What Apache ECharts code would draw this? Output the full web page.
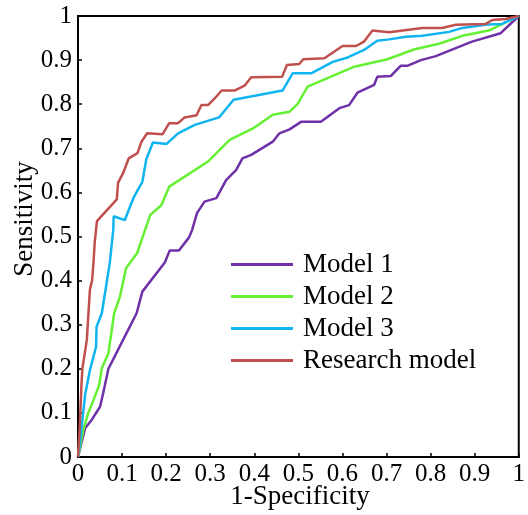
<!DOCTYPE html>
<html>
<head>
<meta charset="utf-8">
<script src="https://cdn.jsdelivr.net/npm/echarts@6/dist/echarts.min.js"></script>
<style>html,body{margin:0;padding:0;background:#fff}#c{width:528px;height:515px}</style>
</head>
<body>
<div id="c"></div>
<script>
var seriesNames = ['Model 1', 'Model 2', 'Model 3', 'Research model'];
var seriesColors = ['#7030a8', '#66f033', '#10b4f0', '#c0504d'];
var xTickLabels = ['0','0.1','0.2','0.3','0.4','0.5','0.6','0.7','0.8','0.9','1'];
var yTickLabels = ['0','0.1','0.2','0.3','0.4','0.5','0.6','0.7','0.8','0.9','1'];

var model1 = [[0,0],[0.016,0.065],[0.031,0.084],[0.050,0.114],[0.057,0.144],[0.069,0.200],[0.102,0.265],[0.133,0.326],[0.146,0.375],[0.197,0.441],[0.208,0.468],[0.229,0.468],[0.252,0.498],[0.259,0.515],[0.270,0.553],[0.287,0.579],[0.314,0.587],[0.336,0.628],[0.359,0.651],[0.373,0.677],[0.393,0.685],[0.442,0.715],[0.457,0.734],[0.480,0.743],[0.506,0.760],[0.551,0.760],[0.593,0.791],[0.615,0.798],[0.634,0.826],[0.672,0.844],[0.679,0.862],[0.710,0.864],[0.732,0.887],[0.747,0.887],[0.778,0.900],[0.812,0.909],[0.857,0.927],[0.894,0.942],[0.959,0.961],[1,1]];
var model2 = [[0,0],[0.012,0.061],[0.023,0.099],[0.035,0.129],[0.048,0.163],[0.054,0.201],[0.069,0.235],[0.082,0.326],[0.095,0.363],[0.109,0.428],[0.134,0.462],[0.164,0.549],[0.189,0.571],[0.207,0.613],[0.295,0.670],[0.344,0.719],[0.397,0.745],[0.442,0.776],[0.480,0.783],[0.498,0.800],[0.521,0.840],[0.627,0.885],[0.702,0.902],[0.762,0.924],[0.819,0.937],[0.872,0.955],[0.932,0.967],[1,1]];
var model3 = [[0,0],[0.006,0.046],[0.016,0.140],[0.027,0.197],[0.041,0.250],[0.042,0.295],[0.054,0.326],[0.072,0.439],[0.080,0.515],[0.081,0.546],[0.106,0.537],[0.127,0.590],[0.146,0.624],[0.155,0.675],[0.170,0.713],[0.201,0.710],[0.227,0.734],[0.265,0.753],[0.320,0.770],[0.353,0.810],[0.464,0.831],[0.487,0.870],[0.529,0.870],[0.578,0.896],[0.612,0.906],[0.649,0.923],[0.679,0.944],[0.706,0.947],[0.744,0.953],[0.781,0.955],[0.842,0.964],[0.872,0.973],[0.932,0.981],[0.962,0.982],[1,1]];
var researchModel = [[0,0],[0.004,0.070],[0.008,0.167],[0.010,0.201],[0.020,0.265],[0.027,0.379],[0.032,0.401],[0.035,0.439],[0.038,0.488],[0.043,0.535],[0.088,0.584],[0.091,0.622],[0.102,0.643],[0.115,0.677],[0.135,0.689],[0.144,0.715],[0.157,0.734],[0.192,0.732],[0.207,0.757],[0.227,0.757],[0.242,0.770],[0.269,0.775],[0.280,0.798],[0.295,0.798],[0.310,0.813],[0.326,0.831],[0.355,0.831],[0.378,0.842],[0.393,0.861],[0.463,0.862],[0.474,0.889],[0.502,0.891],[0.511,0.902],[0.559,0.904],[0.581,0.919],[0.600,0.932],[0.631,0.932],[0.649,0.942],[0.668,0.967],[0.706,0.963],[0.781,0.973],[0.826,0.973],[0.857,0.980],[0.925,0.982],[0.940,0.991],[0.970,0.993],[1,1]];

var allData = [model1, model2, model3, researchModel];
var FONT = 'Liberation Serif';

var chart = echarts.init(document.getElementById('c'), null, {renderer: 'canvas'});
chart.setOption({
  animation: false,
  backgroundColor: '#fff',
  grid: {left: 78, right: 8, top: 16, bottom: 58, show: true, borderColor: '#000', borderWidth: 2, containLabel: false},
  legend: {
    orient: 'vertical', left: 226, top: 246, itemWidth: 62, itemHeight: 3, itemGap: 5,
    icon: 'rect',
    data: seriesNames,
    textStyle: {fontFamily: FONT, fontSize: 27, color: '#000', padding: [0,0,0,5]}
  },
  xAxis: {
    type: 'value', min: 0, max: 1, interval: 0.1,
    axisLine: {show: true, lineStyle: {color: '#000', width: 2}},
    axisTick: {show: true, inside: true, length: 4, lineStyle: {color: '#000', width: 1.5}},
    splitLine: {show: false},
    axisLabel: {fontFamily: FONT, fontSize: 25, color: '#000', margin: 5,
      formatter: function (v) { return xTickLabels[Math.round(v * 10)]; }}
  },
  yAxis: {
    type: 'value', min: 0, max: 1, interval: 0.1,
    axisLine: {show: true, lineStyle: {color: '#000', width: 2}},
    axisTick: {show: true, inside: true, length: 4, lineStyle: {color: '#000', width: 1.5}},
    splitLine: {show: false},
    axisLabel: {fontFamily: FONT, fontSize: 25, color: '#000', margin: 6,
      formatter: function (v) { return yTickLabels[Math.round(v * 10)]; }}
  },
  graphic: [
    {type: 'text', x: 300, y: 497, style: {text: '1-Specificity', font: '27px "Liberation Serif"', fill: '#000', textAlign: 'center', textVerticalAlign: 'middle'}},
    {type: 'text', x: 25, y: 219, rotation: Math.PI / 2, style: {text: 'Sensitivity', font: '27px "Liberation Serif"', fill: '#000', textAlign: 'center', textVerticalAlign: 'middle'}}
  ],
  series: seriesNames.map(function (n, i) {
    return {
      name: n, type: 'line', data: allData[i], symbol: 'none', showSymbol: false,
      lineStyle: {color: seriesColors[i], width: 2.5}, itemStyle: {color: seriesColors[i]},
      z: 2 + i
    };
  })
});
</script>
</body>
</html>
